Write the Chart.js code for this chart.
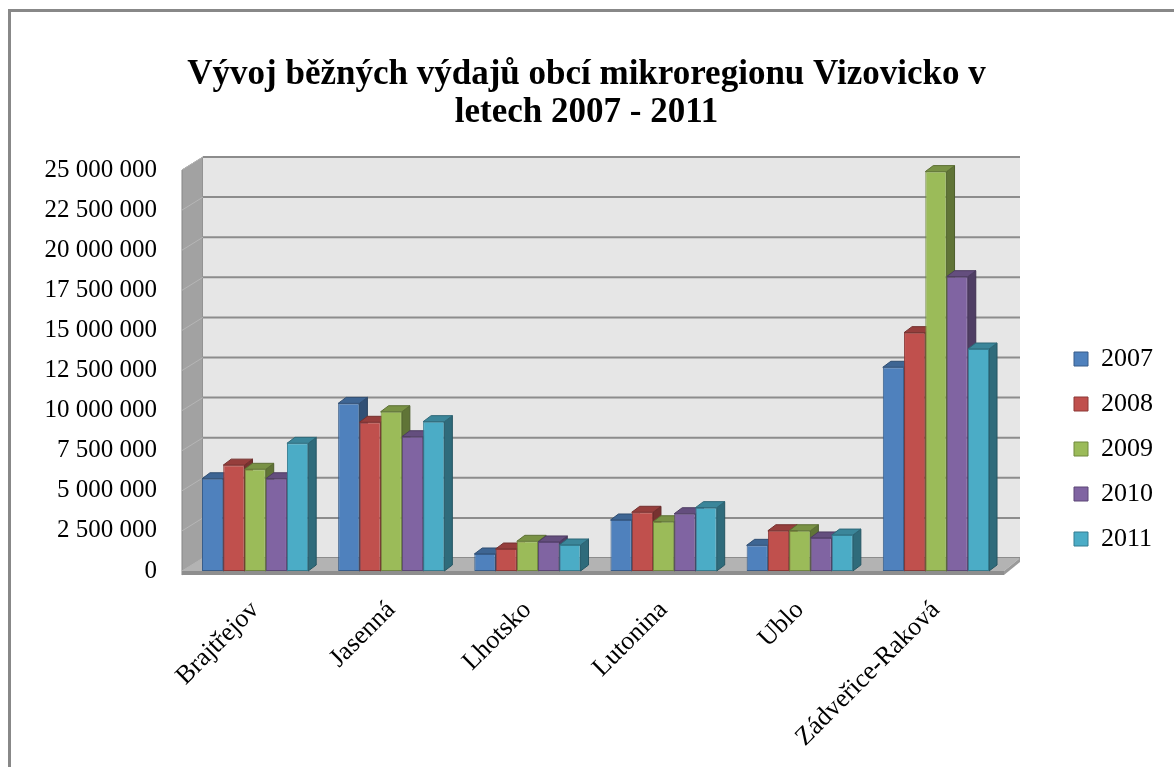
<!DOCTYPE html>
<html lang="cs">
<head>
<meta charset="utf-8">
<title>Vývoj běžných výdajů obcí mikroregionu Vizovicko</title>
<script src="https://cdn.jsdelivr.net/npm/chart.js@4/dist/chart.umd.min.js"></script>
<style>
    html, body { margin: 0; padding: 0; background: #fff; overflow: hidden; }
    #wrap { position: relative; width: 1174px; height: 767px; }
    #frame {
        position: absolute; left: 8px; top: 9px; width: 1400px; height: 1000px;
        border-top: 3px solid #888; border-left: 3px solid #888; pointer-events: none;
    }
</style>
</head>
<body>
<div id="wrap">
    <canvas id="chart"></canvas>
    <div id="frame"></div>
</div>
<script>
const categories = ['Brajtřejov', 'Jasenná', 'Lhotsko', 'Lutonina', 'Ublo', 'Zádveřice-Raková'];
const years = ['2007', '2008', '2009', '2010', '2011'];

const values2007 = [5750000, 10450000, 1060000, 3180000, 1600000, 12700000];
const values2008 = [6600000, 9270000, 1370000, 3660000, 2510000, 14860000];
const values2009 = [6340000, 9930000, 1850000, 3070000, 2510000, 24900000];
const values2010 = [5750000, 8370000, 1810000, 3570000, 2060000, 18350000];
const values2011 = [7960000, 9310000, 1620000, 3950000, 2240000, 13840000];

const axisMax = 25000000;
const axisStep = 2500000;

const fills = ['#4f81bd', '#c0504d', '#9bbb59', '#8064a2', '#4bacc6'];
const borders = ['#385d8a', '#8c3836', '#71893f', '#5c4776', '#357d91'];

const serif = "'Liberation Serif', 'Times New Roman', serif";
const wallDepth = { dx: 16, dy: -13 };
const barDepth = { dx: 8, dy: -6 };

function shade(hex, f) {
    const n = parseInt(hex.slice(1), 16);
    const r = Math.round(((n >> 16) & 255) * f);
    const g = Math.round(((n >> 8) & 255) * f);
    const b = Math.round((n & 255) * f);
    return `rgb(${r}, ${g}, ${b})`;
}

function poly(ctx, pts, fill, stroke) {
    ctx.beginPath();
    ctx.moveTo(pts[0][0], pts[0][1]);
    pts.slice(1).forEach((p) => ctx.lineTo(p[0], p[1]));
    ctx.closePath();
    ctx.fillStyle = fill;
    ctx.fill();
    if (stroke) {
        ctx.strokeStyle = stroke;
        ctx.lineWidth = 1;
        ctx.stroke();
    }
}

// walls, floor and the depth faces of each bar; the bar fronts are drawn by Chart.js afterwards
const depthPlugin = {
    id: 'depth3d',
    beforeDatasetsDraw(chart) {
        const { ctx, chartArea: { left, right, top, bottom }, scales: { y } } = chart;
        const { dx, dy } = wallDepth;
        const fl = left - 5;

        ctx.save();
        // side wall
        poly(ctx, [[fl, top], [left + dx, top + dy], [left + dx, bottom + dy], [fl, bottom + 4]], '#a2a2a2', '#858585');
        // back wall
        ctx.fillStyle = '#e6e6e6';
        ctx.fillRect(left + dx, top + dy, right - left, bottom - top);

        // grid lines on the back and side walls
        for (let v = 0; v <= axisMax; v += axisStep) {
            const py = y.getPixelForValue(v);
            ctx.strokeStyle = '#b6b6b6';
            ctx.lineWidth = 1;
            ctx.beginPath();
            ctx.moveTo(fl, py);
            ctx.lineTo(left + dx, py + dy);
            ctx.stroke();
            ctx.strokeStyle = '#8c8c8c';
            ctx.lineWidth = 2;
            ctx.beginPath();
            ctx.moveTo(left + dx, py + dy);
            ctx.lineTo(right + dx, py + dy);
            ctx.stroke();
        }

        // floor
        poly(ctx, [[fl, bottom], [right, bottom], [right + dx, bottom + dy], [left + dx, bottom + dy]], '#b3b3b3');
        poly(ctx, [[fl, bottom], [right, bottom], [right, bottom + 4], [fl, bottom + 4]], '#8e8e8e');
        poly(ctx, [[right, bottom], [right + dx, bottom + dy], [right + dx, bottom + dy + 4], [right, bottom + 4]], '#9a9a9a');

        // bar tops and right-hand sides
        chart.data.datasets.forEach((ds, di) => {
            const meta = chart.getDatasetMeta(di);
            meta.data.forEach((bar) => {
                const xl = bar.x - bar.width / 2;
                const xr = bar.x + bar.width / 2;
                const yt = bar.y;
                const yb = bar.base;
                poly(ctx, [[xr, yt], [xr + barDepth.dx, yt + barDepth.dy], [xr + barDepth.dx, yb + barDepth.dy], [xr, yb]], shade(fills[di], 0.62), shade(fills[di], 0.5));
                poly(ctx, [[xl, yt], [xr, yt], [xr + barDepth.dx, yt + barDepth.dy], [xl + barDepth.dx, yt + barDepth.dy]], shade(fills[di], 0.78), shade(fills[di], 0.6));
            });
        });
        ctx.restore();
    },
};

const seriesValues = [values2007, values2008, values2009, values2010, values2011];

new Chart(document.getElementById('chart'), {
    type: 'bar',
    data: {
        labels: categories,
        datasets: years.map((year, i) => ({
            label: year,
            data: seriesValues[i],
            backgroundColor: fills[i],
            borderColor: borders[i],
            borderWidth: 1,
            borderSkipped: false,
            categoryPercentage: 0.78,
            barPercentage: 1.0,
        })),
    },
    options: {
        responsive: true,
        maintainAspectRatio: false,
        animation: false,
        layout: { padding: { left: 10, right: 11, top: 0, bottom: 0 } },
        plugins: {
            title: {
                display: true,
                text: ['Vývoj běžných výdajů obcí mikroregionu Vizovicko v', 'letech 2007 - 2011'],
                color: '#000',
                font: { family: serif, size: 35, weight: 'bold', lineHeight: '38px' },
                padding: { top: 56, bottom: 38 },
            },
            legend: {
                position: 'right',
                align: 'end',
                fullSize: false,
                labels: {
                    color: '#000',
                    font: { family: serif, size: 26 },
                    boxWidth: 14,
                    boxHeight: 14,
                    padding: 19,
                },
            },
            tooltip: { enabled: false },
        },
        scales: {
            x: {
                grid: { display: false, drawTicks: false },
                border: { display: false },
                ticks: {
                    color: '#000',
                    font: { family: serif, size: 26 },
                    minRotation: 45,
                    maxRotation: 45,
                    autoSkip: false,
                    padding: 24,
                },
                afterFit: (s) => { s.height = 196; },
            },
            y: {
                min: 0,
                max: axisMax,
                grid: { display: false, drawTicks: false },
                border: { display: false },
                ticks: {
                    stepSize: axisStep,
                    color: '#000',
                    font: { family: serif, size: 25 },
                    padding: 30,
                    callback: (v) => String(v).replace(/\B(?=(\d{3})+(?!\d))/g, ' '),
                },
                afterFit: (s) => { s.width = 177; },
            },
            gap: {
                type: 'linear',
                position: 'right',
                display: true,
                grid: { display: false, drawTicks: false },
                border: { display: false },
                ticks: { display: false },
                afterFit: (s) => { s.width = 51; },
            },
        },
    },
    plugins: [depthPlugin],
});
</script>
</body>
</html>
